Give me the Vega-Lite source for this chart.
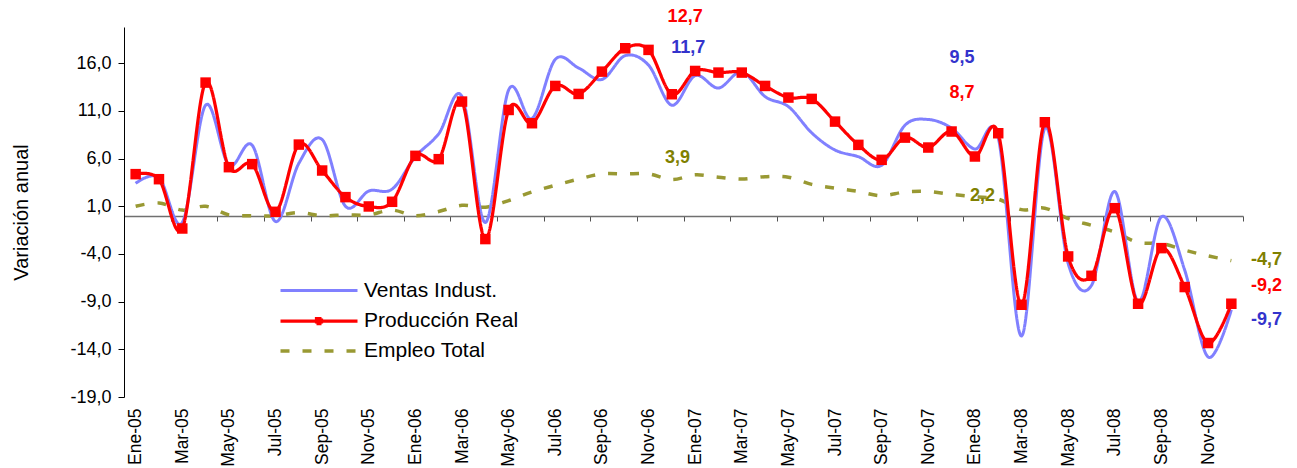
{
  "$schema": "https://vega.github.io/schema/vega-lite/v6.json",
  "width": 1119,
  "height": 370,
  "autosize": {"type": "none"},
  "padding": {"left": 124, "top": 27, "right": 54, "bottom": 71},
  "background": "white",
  "config": {"view": {"stroke": null}, "font": "Liberation Sans", "axis": {"grid": false}},
  "datasets": {
    "series": [
      {"t": 0, "mes": "Ene-05", "ventas": 3.4, "produccion": 4.37, "empleo": 1.0},
      {"t": 1, "mes": "Feb-05", "ventas": 4.0, "produccion": 3.84, "empleo": 1.35},
      {"t": 2, "mes": "Mar-05", "ventas": -0.7, "produccion": -1.33, "empleo": 0.6},
      {"t": 3, "mes": "Abr-05", "ventas": 11.6, "produccion": 13.97, "empleo": 1.0},
      {"t": 4, "mes": "May-05", "ventas": 5.3, "produccion": 5.1, "empleo": 0.1},
      {"t": 5, "mes": "Jun-05", "ventas": 7.4, "produccion": 5.42, "empleo": 0.0},
      {"t": 6, "mes": "Jul-05", "ventas": -0.6, "produccion": 0.42, "empleo": 0.0},
      {"t": 7, "mes": "Ago-05", "ventas": 5.5, "produccion": 7.47, "empleo": 0.35},
      {"t": 8, "mes": "Sep-05", "ventas": 8.0, "produccion": 4.75, "empleo": 0.0},
      {"t": 9, "mes": "Oct-05", "ventas": 1.0, "produccion": 1.96, "empleo": 0.1},
      {"t": 10, "mes": "Nov-05", "ventas": 2.6, "produccion": 0.98, "empleo": 0.1},
      {"t": 11, "mes": "Dic-05", "ventas": 2.8, "produccion": 1.47, "empleo": 0.6},
      {"t": 12, "mes": "Ene-06", "ventas": 6.2, "produccion": 6.29, "empleo": 0.0},
      {"t": 13, "mes": "Feb-06", "ventas": 8.6, "produccion": 5.94, "empleo": 0.45},
      {"t": 14, "mes": "Mar-06", "ventas": 12.5, "produccion": 11.98, "empleo": 1.1},
      {"t": 15, "mes": "Abr-06", "ventas": -0.7, "produccion": -2.44, "empleo": 0.9},
      {"t": 16, "mes": "May-06", "ventas": 13.2, "produccion": 11.1, "empleo": 1.6},
      {"t": 17, "mes": "Jun-06", "ventas": 10.2, "produccion": 9.71, "empleo": 2.5},
      {"t": 18, "mes": "Jul-06", "ventas": 16.4, "produccion": 13.62, "empleo": 3.2},
      {"t": 19, "mes": "Ago-06", "ventas": 15.5, "produccion": 12.78, "empleo": 3.85},
      {"t": 20, "mes": "Sep-06", "ventas": 14.3, "produccion": 15.12, "empleo": 4.4},
      {"t": 21, "mes": "Oct-06", "ventas": 16.8, "produccion": 17.57, "empleo": 4.4},
      {"t": 22, "mes": "Nov-06", "ventas": 15.8, "produccion": 17.4, "empleo": 4.4},
      {"t": 23, "mes": "Dic-06", "ventas": 11.6, "produccion": 12.75, "empleo": 3.8},
      {"t": 24, "mes": "Ene-07", "ventas": 14.7, "produccion": 15.19, "empleo": 4.3},
      {"t": 25, "mes": "Feb-07", "ventas": 13.4, "produccion": 15.02, "empleo": 4.05},
      {"t": 26, "mes": "Mar-07", "ventas": 15.1, "produccion": 15.02, "empleo": 3.85},
      {"t": 27, "mes": "Abr-07", "ventas": 12.5, "produccion": 13.62, "empleo": 4.1},
      {"t": 28, "mes": "May-07", "ventas": 11.45, "produccion": 12.4, "empleo": 4.05},
      {"t": 29, "mes": "Jun-07", "ventas": 8.7, "produccion": 12.26, "empleo": 3.3},
      {"t": 30, "mes": "Jul-07", "ventas": 6.9, "produccion": 9.88, "empleo": 2.9},
      {"t": 31, "mes": "Ago-07", "ventas": 6.2, "produccion": 7.44, "empleo": 2.55},
      {"t": 32, "mes": "Sep-07", "ventas": 5.3, "produccion": 5.87, "empleo": 2.1},
      {"t": 33, "mes": "Oct-07", "ventas": 9.5, "produccion": 8.2, "empleo": 2.5},
      {"t": 34, "mes": "Nov-07", "ventas": 10.1, "produccion": 7.16, "empleo": 2.55},
      {"t": 35, "mes": "Dic-07", "ventas": 9.2, "produccion": 8.84, "empleo": 2.25},
      {"t": 36, "mes": "Ene-08", "ventas": 7.0, "produccion": 6.22, "empleo": 2.0},
      {"t": 37, "mes": "Feb-08", "ventas": 8.2, "produccion": 8.66, "empleo": 1.75},
      {"t": 38, "mes": "Mar-08", "ventas": -12.6, "produccion": -9.33, "empleo": 0.65},
      {"t": 39, "mes": "Abr-08", "ventas": 9.2, "produccion": 9.81, "empleo": 0.8},
      {"t": 40, "mes": "May-08", "ventas": -5.0, "produccion": -4.26, "empleo": -0.3},
      {"t": 41, "mes": "Jun-08", "ventas": -7.3, "produccion": -6.29, "empleo": -1.0},
      {"t": 42, "mes": "Jul-08", "ventas": 2.55, "produccion": 0.8, "empleo": -1.7},
      {"t": 43, "mes": "Ago-08", "ventas": -9.0, "produccion": -9.22, "empleo": -2.8},
      {"t": 44, "mes": "Sep-08", "ventas": -0.1, "produccion": -3.39, "empleo": -2.9},
      {"t": 45, "mes": "Oct-08", "ventas": -5.7, "produccion": -7.47, "empleo": -3.6},
      {"t": 46, "mes": "Nov-08", "ventas": -14.8, "produccion": -13.34, "empleo": -4.2},
      {"t": 47, "mes": "Dic-08", "ventas": -9.85, "produccion": -9.22, "empleo": -4.7}
    ],
    "notas": [
      {"t": 23.57, "v": 20.85, "label": "12,7", "serie": "produccion"},
      {"t": 23.7, "v": 17.6, "label": "11,7", "serie": "ventas"},
      {"t": 23.24, "v": 6.1, "label": "3,9", "serie": "empleo"},
      {"t": 35.45, "v": 16.6, "label": "9,5", "serie": "ventas"},
      {"t": 35.45, "v": 12.92, "label": "8,7", "serie": "produccion"},
      {"t": 36.33, "v": 2.1, "label": "2,2", "serie": "empleo"},
      {"t": 48.51, "v": -4.61, "label": "-4,7", "serie": "empleo"},
      {"t": 48.51, "v": -7.34, "label": "-9,2", "serie": "produccion"},
      {"t": 48.51, "v": -10.9, "label": "-9,7", "serie": "ventas"}
    ]
  },
  "layer": [
    {
      "data": {"name": "series"},
      "transform": [{"fold": ["empleo", "ventas", "produccion"], "as": ["serie", "valor"]}],
      "mark": {"type": "line", "interpolate": "cardinal"},
      "encoding": {
        "x": {
          "field": "t", "type": "quantitative",
          "scale": {"domain": [-0.5, 47.5], "nice": false, "zero": false},
          "axis": {
            "orient": "bottom",
            "values": [0, 2, 4, 6, 8, 10, 12, 14, 16, 18, 20, 22, 24, 26, 28, 30, 32, 34, 36, 38, 40, 42, 44, 46],
            "ticks": false, "domain": false, "grid": false,
            "labelAngle": 270, "labelAlign": "right", "labelBaseline": "middle",
            "labelPadding": 11, "labelFontSize": 17.5, "labelColor": "black",
            "labelOverlap": false,
            "labelExpr": "['Ene','Feb','Mar','Abr','May','Jun','Jul','Ago','Sep','Oct','Nov','Dic'][datum.value % 12] + '-0' + (5 + floor(datum.value / 12))",
            "title": null
          }
        },
        "y": {
          "field": "valor", "type": "quantitative",
          "scale": {"domain": [-19, 19.8], "nice": false, "zero": false},
          "axis": {
            "values": [-19, -14, -9, -4, 1, 6, 11, 16],
            "labelExpr": "replace(replace(format(datum.value, '.1f'), '.', ','), '−', '-')",
            "labelFontSize": 18, "labelColor": "black", "labelPadding": 7,
            "tickSize": 6, "tickColor": "black", "domainColor": "black",
            "title": "Variación anual", "titleFontSize": 20, "titleFontWeight": "normal",
            "titleColor": "black", "titlePadding": 38
          }
        },
        "color": {
          "field": "serie", "type": "nominal",
          "scale": {"domain": ["ventas", "produccion", "empleo"], "range": ["#8080FF", "#FF0000", "#999933"]},
          "legend": {
            "orient": "none", "legendX": 183, "legendY": 252, "title": null,
            "direction": "vertical", "labelFontSize": 21, "labelColor": "black",
            "symbolSize": 400, "symbolStrokeWidth": 3.5,
            "labelOffset": 33, "rowPadding": 8,
            "labelExpr": "{'ventas': 'Ventas Indust.', 'produccion': 'Producción Real', 'empleo': 'Empleo Total'}[datum.label]",
            "encode": {"symbols": {"update": {
              "shape": {"signal": "datum.value === 'produccion' ? 'M-3.85,0H3.85M-0.25,-0.25H0.25V0.25H-0.25Z' : 'M-3.85,0H3.85'"},
              "fill": {"signal": "datum.value === 'produccion' ? '#FF0000' : 'transparent'"}
            }}}
          }
        },
        "strokeDash": {
          "field": "serie", "type": "nominal",
          "scale": {"domain": ["ventas", "produccion", "empleo"], "range": [[1, 0], [1, 0], [9, 13]]},
          "legend": {
            "orient": "none", "legendX": 183, "legendY": 252, "title": null,
            "direction": "vertical", "labelFontSize": 21, "labelColor": "black",
            "symbolSize": 400, "symbolStrokeWidth": 3.5,
            "labelOffset": 33, "rowPadding": 8,
            "labelExpr": "{'ventas': 'Ventas Indust.', 'produccion': 'Producción Real', 'empleo': 'Empleo Total'}[datum.label]",
            "encode": {"symbols": {"update": {
              "shape": {"signal": "datum.value === 'produccion' ? 'M-3.85,0H3.85M-0.25,-0.25H0.25V0.25H-0.25Z' : 'M-3.85,0H3.85'"},
              "fill": {"signal": "datum.value === 'produccion' ? '#FF0000' : 'transparent'"}
            }}}
          }
        },
        "strokeWidth": {
          "field": "serie", "type": "nominal",
          "scale": {"domain": ["ventas", "produccion", "empleo"], "range": [3, 3.5, 3]},
          "legend": null
        }
      }
    },
    {
      "data": {"name": "series"},
      "mark": {"type": "point", "shape": "square", "filled": true, "size": 110, "color": "#FF0000", "opacity": 1},
      "encoding": {
        "x": {
          "field": "t", "type": "quantitative",
          "axis": {
            "orient": "bottom", "offset": -181,
            "values": [-0.5, 1.5, 3.5, 5.5, 7.5, 9.5, 11.5, 13.5, 15.5, 17.5, 19.5, 21.5, 23.5, 25.5, 27.5, 29.5, 31.5, 33.5, 35.5, 37.5, 39.5, 41.5, 43.5, 45.5, 47.5],
            "labels": false, "ticks": true, "tickSize": 5, "tickColor": "#505050",
            "domain": true, "domainColor": "#707070", "domainWidth": 1.5,
            "grid": false, "title": null
          }
        },
        "y": {
          "field": "produccion", "type": "quantitative",
          "axis": {
            "values": [-19, -14, -9, -4, 1, 6, 11, 16],
            "labelExpr": "replace(replace(format(datum.value, '.1f'), '.', ','), '−', '-')",
            "labelFontSize": 18, "labelColor": "black", "labelPadding": 7,
            "tickSize": 6, "tickColor": "black", "domainColor": "black",
            "title": "Variación anual", "titleFontSize": 20, "titleFontWeight": "normal",
            "titleColor": "black", "titlePadding": 38
          }
        }
      }
    },
    {
      "data": {"name": "notas"},
      "mark": {"type": "text", "fontSize": 18, "fontWeight": "bold", "align": "center", "baseline": "middle"},
      "encoding": {
        "x": {"field": "t", "type": "quantitative", "axis": null},
        "y": {
          "field": "v", "type": "quantitative",
          "axis": {
            "values": [-19, -14, -9, -4, 1, 6, 11, 16],
            "labelExpr": "replace(replace(format(datum.value, '.1f'), '.', ','), '−', '-')",
            "labelFontSize": 18, "labelColor": "black", "labelPadding": 7,
            "tickSize": 6, "tickColor": "black", "domainColor": "black",
            "title": "Variación anual", "titleFontSize": 20, "titleFontWeight": "normal",
            "titleColor": "black", "titlePadding": 38
          }
        },
        "text": {"field": "label"},
        "color": {
          "condition": [
            {"test": "datum.serie === 'produccion'", "value": "#FF0000"},
            {"test": "datum.serie === 'ventas'", "value": "#3333CC"}
          ],
          "value": "#808000"
        }
      }
    }
  ],
  "resolve": {"axis": {"x": "independent"}}
}
